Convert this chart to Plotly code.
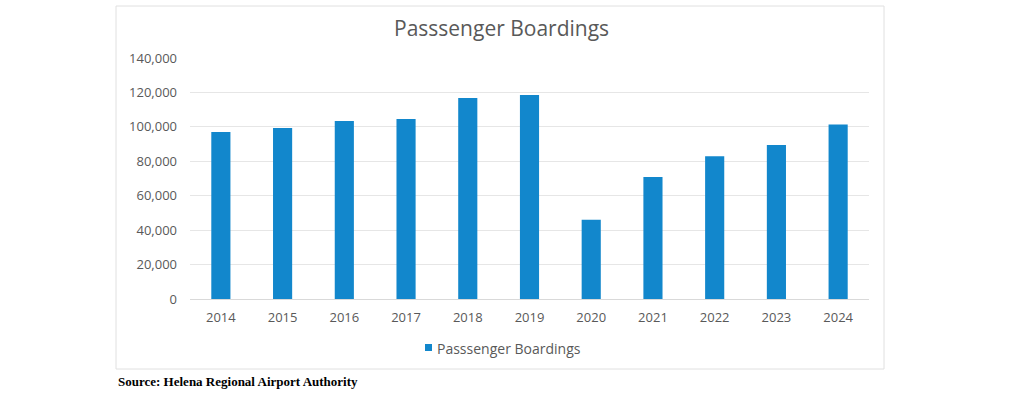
import plotly.graph_objects as go

years = ["2014", "2015", "2016", "2017", "2018", "2019", "2020", "2021", "2022", "2023", "2024"]
boardings = [97000, 99300, 103400, 104600, 116800, 118500, 46100, 70900, 82900, 89500, 101300]
y_ticks = [0, 20000, 40000, 60000, 80000, 100000, 120000, 140000]
y_tick_labels = ["0", "20,000", "40,000", "60,000", "80,000", "100,000", "120,000", "140,000"]
series_name = "Passsenger Boardings"

W, H = 1024, 396
def px(x): return x / W
def py(y): return 1 - y / H

grey = "#595959"
blue = "#1287cc"
font_fam = "Open Sans, Roboto, Arial, sans-serif"

fig = go.Figure()
fig.add_trace(go.Bar(
    x=years, y=boardings, name=series_name, showlegend=False,
    marker=dict(color=blue, line=dict(width=0)),
    width=0.31,
))

fig.update_layout(
    width=W, height=H,
    margin=dict(l=0, r=0, t=0, b=0, autoexpand=False),
    paper_bgcolor="white", plot_bgcolor="white",
    showlegend=False,
    xaxis=dict(domain=[px(190), px(869)], type="category", showgrid=False,
               showline=True, linecolor="#d9d9d9", linewidth=1,
               tickfont=dict(family=font_fam, size=13, color=grey), ticks="",
               ticklabelstandoff=6, fixedrange=True),
    yaxis=dict(domain=[py(299), py(58)], range=[0, 140000], tickvals=y_ticks,
               ticktext=y_tick_labels, showgrid=True, gridcolor="#e6e6e6", gridwidth=1,
               zeroline=False, showline=False,
               tickfont=dict(family=font_fam, size=13, color=grey), ticks="",
               ticklabelstandoff=12, fixedrange=True),
    shapes=[
        dict(type="rect", xref="paper", yref="paper",
             x0=px(116), x1=px(884), y0=py(369), y1=py(6),
             line=dict(color="#e0e0e0", width=1), fillcolor="rgba(0,0,0,0)", layer="below"),
        # legend swatch
        dict(type="rect", xref="paper", yref="paper",
             x0=px(425), x1=px(432), y0=py(351), y1=py(344),
             line=dict(width=0), fillcolor=blue),
    ],
    annotations=[
        dict(text=series_name, xref="paper", yref="paper", x=px(501), y=py(28),
             xanchor="center", yanchor="middle", showarrow=False,
             font=dict(family=font_fam, size=21, color=grey)),
        dict(text=series_name, xref="paper", yref="paper", x=px(435), y=py(348),
             xanchor="left", yanchor="middle", showarrow=False,
             font=dict(family=font_fam, size=14, color=grey)),
        dict(text="<b>Source: Helena Regional Airport Authority</b>", xref="paper", yref="paper",
             x=px(116), y=py(381), xanchor="left", yanchor="middle", showarrow=False,
             font=dict(family="Liberation Serif, Times New Roman, serif", size=13, color="black")),
    ],
)

fig.write_html("out.html", config={"displayModeBar": False},
               post_script="document.body.style.margin='0px';")
